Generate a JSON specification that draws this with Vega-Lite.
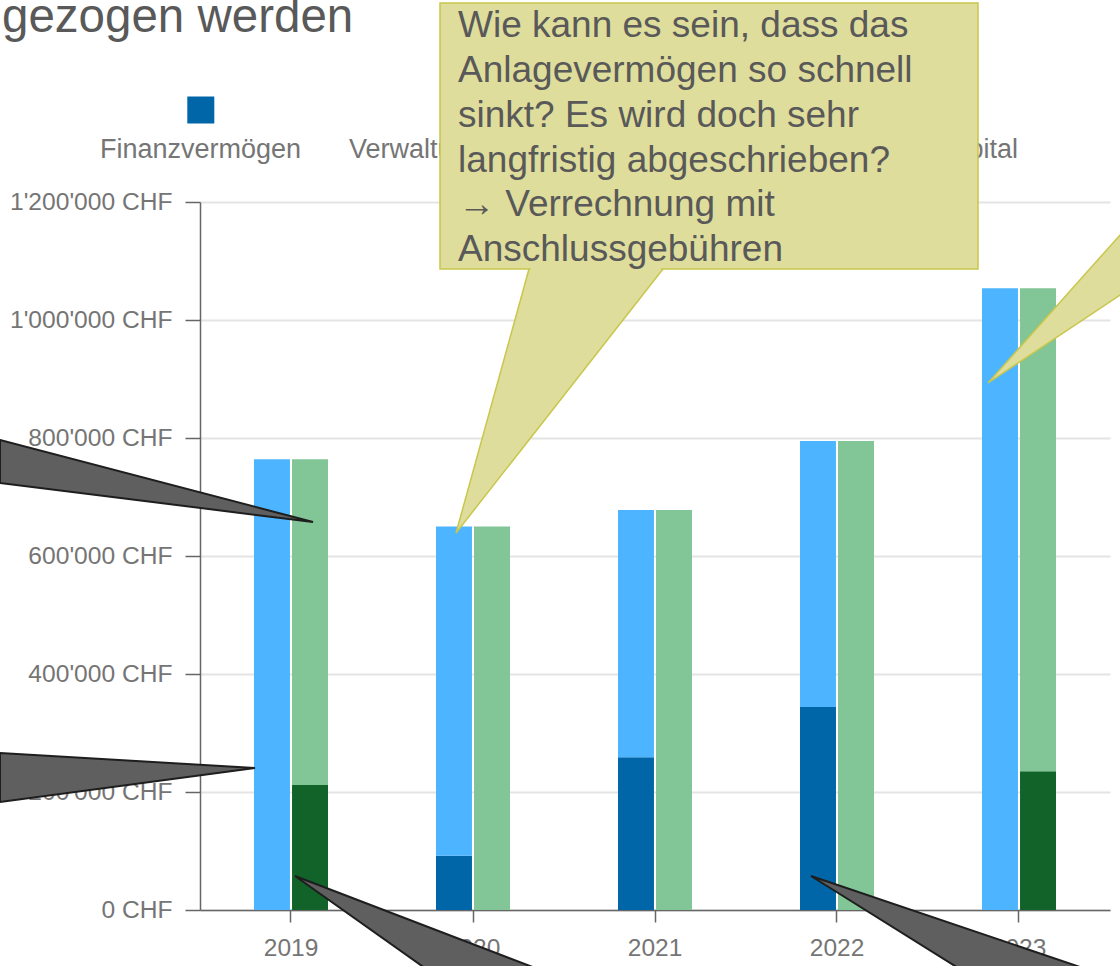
{
  "$schema": "https://vega.github.io/schema/vega-lite/v6.json",
  "width": 910,
  "height": 708,
  "autosize": {"type": "none"},
  "padding": {"left": 200, "top": 202, "right": 10, "bottom": 56},
  "background": "white",
  "config": {"view": {"stroke": null}, "font": "Liberation Sans"},
  "datasets": {
    "bilanz": [
      {"Jahr": "2019", "Seite": "Aktiven", "Kategorie": "Finanzvermögen", "Rang": 1, "Wert": 0},
      {"Jahr": "2019", "Seite": "Aktiven", "Kategorie": "Verwaltungsvermögen", "Rang": 2, "Wert": 764000},
      {"Jahr": "2019", "Seite": "Passiven", "Kategorie": "Fremdkapital", "Rang": 3, "Wert": 212000},
      {"Jahr": "2019", "Seite": "Passiven", "Kategorie": "Eigenkapital", "Rang": 4, "Wert": 552000},
      {"Jahr": "2020", "Seite": "Aktiven", "Kategorie": "Finanzvermögen", "Rang": 1, "Wert": 92000},
      {"Jahr": "2020", "Seite": "Aktiven", "Kategorie": "Verwaltungsvermögen", "Rang": 2, "Wert": 558000},
      {"Jahr": "2020", "Seite": "Passiven", "Kategorie": "Fremdkapital", "Rang": 3, "Wert": 0},
      {"Jahr": "2020", "Seite": "Passiven", "Kategorie": "Eigenkapital", "Rang": 4, "Wert": 650000},
      {"Jahr": "2021", "Seite": "Aktiven", "Kategorie": "Finanzvermögen", "Rang": 1, "Wert": 259000},
      {"Jahr": "2021", "Seite": "Aktiven", "Kategorie": "Verwaltungsvermögen", "Rang": 2, "Wert": 419000},
      {"Jahr": "2021", "Seite": "Passiven", "Kategorie": "Fremdkapital", "Rang": 3, "Wert": 0},
      {"Jahr": "2021", "Seite": "Passiven", "Kategorie": "Eigenkapital", "Rang": 4, "Wert": 678000},
      {"Jahr": "2022", "Seite": "Aktiven", "Kategorie": "Finanzvermögen", "Rang": 1, "Wert": 344000},
      {"Jahr": "2022", "Seite": "Aktiven", "Kategorie": "Verwaltungsvermögen", "Rang": 2, "Wert": 451000},
      {"Jahr": "2022", "Seite": "Passiven", "Kategorie": "Fremdkapital", "Rang": 3, "Wert": 0},
      {"Jahr": "2022", "Seite": "Passiven", "Kategorie": "Eigenkapital", "Rang": 4, "Wert": 795000},
      {"Jahr": "2023", "Seite": "Aktiven", "Kategorie": "Finanzvermögen", "Rang": 1, "Wert": 0},
      {"Jahr": "2023", "Seite": "Aktiven", "Kategorie": "Verwaltungsvermögen", "Rang": 2, "Wert": 1054000},
      {"Jahr": "2023", "Seite": "Passiven", "Kategorie": "Fremdkapital", "Rang": 3, "Wert": 235000},
      {"Jahr": "2023", "Seite": "Passiven", "Kategorie": "Eigenkapital", "Rang": 4, "Wert": 819000}
    ]
  },
  "resolve": {"scale": {"x": "independent", "y": "independent", "color": "independent"}},
  "layer": [
    {
      "data": {"name": "bilanz"},
      "mark": {"type": "bar"},
      "encoding": {
        "x": {
          "field": "Jahr", "type": "nominal",
          "scale": {"paddingInner": 0.5934, "paddingOuter": 0.2967},
          "axis": {
            "title": null, "labelAngle": 0, "labelFontSize": 24.5, "labelColor": "#757575",
            "labelFont": "Liberation Sans", "labelPadding": 14,
            "tickColor": "#666666", "tickSize": 12, "tickWidth": 1.5, "bandPosition": 0.5,
            "domainColor": "#666666", "domainWidth": 1.5, "grid": false
          }
        },
        "xOffset": {
          "field": "Seite", "type": "nominal",
          "scale": {"domain": ["Aktiven", "Passiven"], "paddingInner": 0.054, "paddingOuter": 0}
        },
        "y": {
          "field": "Wert", "type": "quantitative", "stack": "zero",
          "scale": {"domain": [0, 1200000], "nice": false},
          "axis": {
            "title": null,
            "values": [0, 200000, 400000, 600000, 800000, 1000000, 1200000],
            "labelExpr": "replace(format(datum.value, ','), regexp(',', 'g'), \"'\") + ' CHF'",
            "labelFontSize": 24.6, "labelColor": "#757575", "labelFont": "Liberation Sans",
            "labelPadding": 13, "tickSize": 15, "tickColor": "#666666", "tickWidth": 1.5,
            "domainColor": "#666666", "domainWidth": 1.5,
            "gridColor": "#e4e4e4", "gridWidth": 2
          }
        },
        "color": {
          "field": "Kategorie", "type": "nominal",
          "scale": {
            "domain": ["Finanzvermögen", "Verwaltungsvermögen", "Fremdkapital", "Eigenkapital"],
            "range": ["#0066A8", "#4DB5FF", "#116329", "#82C596"]
          },
          "legend": null
        },
        "order": {"field": "Rang", "type": "quantitative"}
      }
    },
    {
      "layer": [
        {
          "data": {"values": [{}]},
          "mark": {"type": "point", "shape": "square", "filled": true, "opacity": 1, "size": 729, "color": "#0066A8"},
          "encoding": {
            "x": {"datum": 0.00088, "type": "quantitative", "scale": {"domain": [0, 1], "nice": false, "zero": false}, "axis": null},
            "y": {"datum": 1.12994, "type": "quantitative", "scale": {"domain": [0, 1], "nice": false, "zero": false}, "axis": null}
          }
        },
        {
          "data": {"values": [{}]},
          "mark": {"type": "point", "shape": "square", "filled": true, "opacity": 1, "size": 729, "color": "#4DB5FF"},
          "encoding": {
            "x": {"datum": 0.30989, "type": "quantitative", "scale": {"domain": [0, 1], "nice": false, "zero": false}, "axis": null},
            "y": {"datum": 1.12994, "type": "quantitative", "scale": {"domain": [0, 1], "nice": false, "zero": false}, "axis": null}
          }
        },
        {
          "data": {"values": [{}]},
          "mark": {"type": "point", "shape": "square", "filled": true, "opacity": 1, "size": 729, "color": "#116329"},
          "encoding": {
            "x": {"datum": 0.5956, "type": "quantitative", "scale": {"domain": [0, 1], "nice": false, "zero": false}, "axis": null},
            "y": {"datum": 1.12994, "type": "quantitative", "scale": {"domain": [0, 1], "nice": false, "zero": false}, "axis": null}
          }
        },
        {
          "data": {"values": [{}]},
          "mark": {"type": "point", "shape": "square", "filled": true, "opacity": 1, "size": 729, "color": "#82C596"},
          "encoding": {
            "x": {"datum": 0.81813, "type": "quantitative", "scale": {"domain": [0, 1], "nice": false, "zero": false}, "axis": null},
            "y": {"datum": 1.12994, "type": "quantitative", "scale": {"domain": [0, 1], "nice": false, "zero": false}, "axis": null}
          }
        },
        {
          "data": {"values": [{}]},
          "mark": {"type": "text", "text": "Finanzvermögen", "align": "center", "baseline": "alphabetic", "fontSize": 27, "color": "#757575", "font": "Liberation Sans"},
          "encoding": {
            "x": {"datum": 0.00055, "type": "quantitative", "scale": {"domain": [0, 1], "nice": false, "zero": false}, "axis": null},
            "y": {"datum": 1.06271, "type": "quantitative", "scale": {"domain": [0, 1], "nice": false, "zero": false}, "axis": null}
          }
        },
        {
          "data": {"values": [{}]},
          "mark": {"type": "text", "text": "Verwaltungsvermögen", "align": "left", "baseline": "alphabetic", "fontSize": 27, "color": "#757575", "font": "Liberation Sans"},
          "encoding": {
            "x": {"datum": 0.16374, "type": "quantitative", "scale": {"domain": [0, 1], "nice": false, "zero": false}, "axis": null},
            "y": {"datum": 1.06271, "type": "quantitative", "scale": {"domain": [0, 1], "nice": false, "zero": false}, "axis": null}
          }
        },
        {
          "data": {"values": [{}]},
          "mark": {"type": "text", "text": "Fremdkapital", "align": "center", "baseline": "alphabetic", "fontSize": 27, "color": "#757575", "font": "Liberation Sans"},
          "encoding": {
            "x": {"datum": 0.5956, "type": "quantitative", "scale": {"domain": [0, 1], "nice": false, "zero": false}, "axis": null},
            "y": {"datum": 1.06271, "type": "quantitative", "scale": {"domain": [0, 1], "nice": false, "zero": false}, "axis": null}
          }
        },
        {
          "data": {"values": [{}]},
          "mark": {"type": "text", "text": "Eigenkapital", "align": "right", "baseline": "alphabetic", "fontSize": 27, "color": "#757575", "font": "Liberation Sans"},
          "encoding": {
            "x": {"datum": 0.8989, "type": "quantitative", "scale": {"domain": [0, 1], "nice": false, "zero": false}, "axis": null},
            "y": {"datum": 1.06271, "type": "quantitative", "scale": {"domain": [0, 1], "nice": false, "zero": false}, "axis": null}
          }
        },
        {
          "data": {"values": [{"u": -0.21978, "a": 0.66384, "b": 0.60311}, {"u": 0.12418, "a": 0.54802, "b": 0.54802}]},
          "mark": {"type": "area", "orient": "vertical", "fill": "#5F5F5F", "stroke": "#1E1E1E", "strokeWidth": 2, "opacity": 1},
          "encoding": {
            "x": {"field": "u", "type": "quantitative", "scale": {"domain": [0, 1], "nice": false, "zero": false}, "axis": null},
            "y": {"field": "a", "type": "quantitative", "scale": {"domain": [0, 1], "nice": false, "zero": false}, "axis": null},
            "y2": {"field": "b"}
          }
        },
        {
          "data": {"values": [{"u": -0.21978, "a": 0.22175, "b": 0.15254}, {"u": 0.06044, "a": 0.20056, "b": 0.20056}]},
          "mark": {"type": "area", "orient": "vertical", "fill": "#5F5F5F", "stroke": "#1E1E1E", "strokeWidth": 2, "opacity": 1},
          "encoding": {
            "x": {"field": "u", "type": "quantitative", "scale": {"domain": [0, 1], "nice": false, "zero": false}, "axis": null},
            "y": {"field": "a", "type": "quantitative", "scale": {"domain": [0, 1], "nice": false, "zero": false}, "axis": null},
            "y2": {"field": "b"}
          }
        },
        {
          "data": {"values": [{"v": 0.04802, "a": 0.1044, "b": 0.1044}, {"v": -0.09181, "a": 0.25791, "b": 0.38846}]},
          "mark": {"type": "area", "orient": "horizontal", "fill": "#5F5F5F", "stroke": "#1E1E1E", "strokeWidth": 2, "opacity": 1},
          "encoding": {
            "y": {"field": "v", "type": "quantitative", "scale": {"domain": [0, 1], "nice": false, "zero": false}, "axis": null},
            "x": {"field": "a", "type": "quantitative", "scale": {"domain": [0, 1], "nice": false, "zero": false}, "axis": null},
            "x2": {"field": "b"}
          }
        },
        {
          "data": {"values": [{"v": 0.04802, "a": 0.67143, "b": 0.67143}, {"v": -0.09181, "a": 0.84549, "b": 0.99297}]},
          "mark": {"type": "area", "orient": "horizontal", "fill": "#5F5F5F", "stroke": "#1E1E1E", "strokeWidth": 2, "opacity": 1},
          "encoding": {
            "y": {"field": "v", "type": "quantitative", "scale": {"domain": [0, 1], "nice": false, "zero": false}, "axis": null},
            "x": {"field": "a", "type": "quantitative", "scale": {"domain": [0, 1], "nice": false, "zero": false}, "axis": null},
            "x2": {"field": "b"}
          }
        },
        {
          "data": {"values": [{"u": 0.86593, "a": 0.74435, "b": 0.74435}, {"u": 1.01648, "a": 0.9613, "b": 0.87331}]},
          "mark": {"type": "area", "orient": "vertical", "fill": "#DFDD9B", "stroke": "#C8C64C", "strokeWidth": 1.5, "opacity": 1},
          "encoding": {
            "x": {"field": "u", "type": "quantitative", "scale": {"domain": [0, 1], "nice": false, "zero": false}, "axis": null},
            "y": {"field": "a", "type": "quantitative", "scale": {"domain": [0, 1], "nice": false, "zero": false}, "axis": null},
            "y2": {"field": "b"}
          }
        },
        {
          "data": {"values": [{"v": 0.90537, "a": 0.36154, "b": 0.50879}, {"v": 0.53249, "a": 0.28132, "b": 0.28132}]},
          "mark": {"type": "area", "orient": "horizontal", "fill": "#DFDD9B", "stroke": "#C8C64C", "strokeWidth": 1.5, "opacity": 1},
          "encoding": {
            "y": {"field": "v", "type": "quantitative", "scale": {"domain": [0, 1], "nice": false, "zero": false}, "axis": null},
            "x": {"field": "a", "type": "quantitative", "scale": {"domain": [0, 1], "nice": false, "zero": false}, "axis": null},
            "x2": {"field": "b"}
          }
        },
        {
          "data": {"values": [{}]},
          "mark": {"type": "rect", "fill": "#DFDD9B", "stroke": "#C8C64C", "strokeWidth": 1.5},
          "encoding": {
            "x": {"datum": 0.26374, "type": "quantitative", "scale": {"domain": [0, 1], "nice": false, "zero": false}, "axis": null},
            "x2": {"datum": 0.85495},
            "y": {"datum": 1.28107, "type": "quantitative", "scale": {"domain": [0, 1], "nice": false, "zero": false}, "axis": null},
            "y2": {"datum": 0.90537}
          }
        },
        {
          "data": {"values": [{}]},
          "mark": {"type": "rect", "fill": "#DFDD9B", "strokeWidth": 0},
          "encoding": {
            "x": {"datum": 0.36319, "type": "quantitative", "scale": {"domain": [0, 1], "nice": false, "zero": false}, "axis": null},
            "x2": {"datum": 0.50659},
            "y": {"datum": 0.9089, "type": "quantitative", "scale": {"domain": [0, 1], "nice": false, "zero": false}, "axis": null},
            "y2": {"datum": 0.90254}
          }
        },
        {
          "data": {"values": [{}]},
          "mark": {
            "type": "text",
            "text": ["Wie kann es sein, dass das", "Anlagevermögen so schnell", "sinkt? Es wird doch sehr", "langfristig abgeschrieben?", "→ Verrechnung mit", "Anschlussgebühren"],
            "align": "left", "baseline": "alphabetic", "fontSize": 37, "lineHeight": 44.7,
            "color": "#595959", "font": "Liberation Sans"
          },
          "encoding": {
            "x": {"datum": 0.28352, "type": "quantitative", "scale": {"domain": [0, 1], "nice": false, "zero": false}, "axis": null},
            "y": {"datum": 1.23235, "type": "quantitative", "scale": {"domain": [0, 1], "nice": false, "zero": false}, "axis": null}
          }
        },
        {
          "data": {"values": [{}]},
          "mark": {"type": "text", "text": "gezogen werden", "align": "left", "baseline": "alphabetic", "fontSize": 47.5, "color": "#595959", "font": "Liberation Sans"},
          "encoding": {
            "x": {"datum": -0.21758, "type": "quantitative", "scale": {"domain": [0, 1], "nice": false, "zero": false}, "axis": null},
            "y": {"datum": 1.24054, "type": "quantitative", "scale": {"domain": [0, 1], "nice": false, "zero": false}, "axis": null}
          }
        }
      ]
    }
  ]
}
